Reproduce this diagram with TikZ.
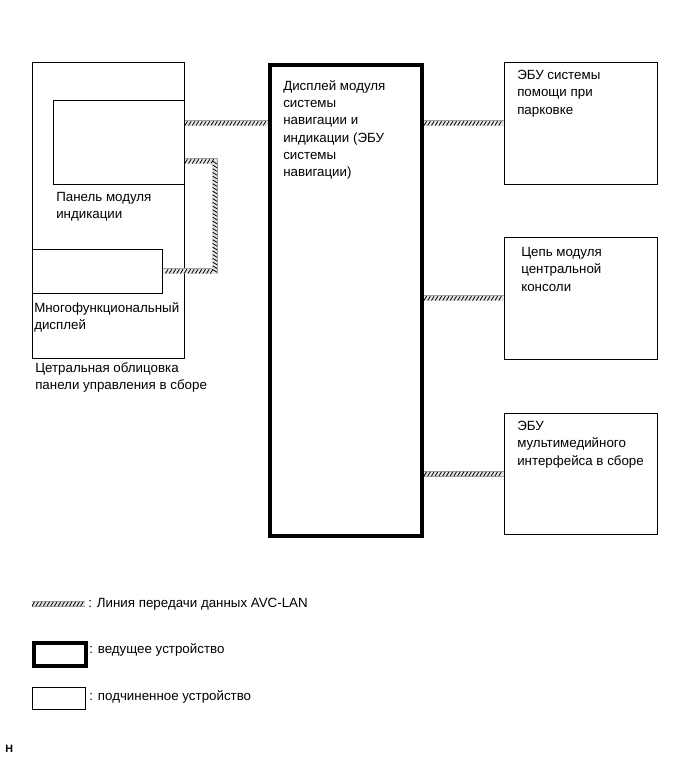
\documentclass[tikz,border=0pt]{standalone}
\usepackage{fontspec}
\setmainfont{Liberation Sans}
\usetikzlibrary{decorations.markings,calc}

\begin{document}
\begin{tikzpicture}[
    x=0.75pt, y=-0.75pt,
    unit/.style={draw, line width=0.6pt, inner sep=0pt, anchor=north west},
    master/.style={draw, line width=3pt, inner sep=0pt, anchor=north west},
    txt/.style={inner sep=0pt, anchor=north west, align=left, font=\fontsize{10}{13}\selectfont},
    avc/.style={draw=gray!20, line width=3.6pt,
        preaction={draw=gray!75, line width=4.6pt},
        postaction={decorate, decoration={markings,
            mark=between positions 1pt and -1pt step 2.8pt with
            {\draw[black, line width=0.6pt] (-1pt,-1.6pt) -- (1pt,1.6pt);}}}}
]
\useasboundingbox (0,0) rectangle (691,757);

% Left: centre panel assembly
\node[unit, minimum width=114pt, minimum height=222pt] (console) at (32,62) {};
\node[unit, minimum width=98.25pt, minimum height=63pt] (panel) at (53,100) {};
\node[unit, minimum width=97.5pt, minimum height=33pt] (mfd) at (32,249) {};
\node[txt] (panel_t) at (56,192) {Панель модуля\\индикации};
\node[txt] (mfd_t) at (34,302) {Многофункциональный\\дисплей};
\node[txt] (console_t) at (35,362) {Цетральная облицовка\\панели управления в сборе};

% Middle: master unit
\node[master, minimum width=114pt, minimum height=353.5pt] (navi) at (268,62.5) {};
\node[txt] (navi_t) at (283,80) {Дисплей модуля\\системы\\навигации и\\индикации (ЭБУ\\системы\\навигации)};

% Right: slave units
\node[unit, minimum width=114.75pt, minimum height=91.5pt] (park) at (504,62) {};
\node[unit, minimum width=114.75pt, minimum height=91.5pt] (cons) at (504,237) {};
\node[unit, minimum width=114.75pt, minimum height=90.75pt] (multi) at (504,413) {};
\node[txt] (park_t) at (517,70) {ЭБУ системы\\помощи при\\парковке};
\node[txt] (cons_t) at (521,247) {Цепь модуля\\центральной\\консоли};
\node[txt] (multi_t) at (517,421) {ЭБУ\\мультимедийного\\интерфейса в сборе};

% AVC-LAN lines
\draw[avc] (panel.east |- park.west) -- (navi.west |- park.west);
\draw[avc] ($(panel.east)+(0,19)$) -- ++(30,0) |- (mfd.east);
\draw[avc] (navi.east |- park.west) -- (park.west);
\draw[avc] (navi.east |- cons.west) -- (cons.west);
\draw[avc] (navi.east |- multi.west) -- (multi.west);

% Legend
\coordinate (lg_a) at (32,604);
\coordinate (lg_b) at (85,604);
\draw[avc] (lg_a) -- (lg_b);
\node[txt, anchor=base west] (lg_avc) at (88,607) {: Линия передачи данных AVC-LAN};
\node[master, minimum width=39pt, minimum height=17pt] (lg_master) at (32,641) {};
\node[txt, anchor=base west] (lg_master_t) at (89,653) {: ведущее устройство};
\node[unit, minimum width=39.75pt, minimum height=16.5pt] (lg_unit) at (32,687) {};
\node[txt, anchor=base west] (lg_unit_t) at (89,700) {: подчиненное устройство};

\node[inner sep=0pt, anchor=north west, font=\fontsize{8}{9}\selectfont\bfseries] (code) at (5,745) {H};
\end{tikzpicture}
\end{document}
